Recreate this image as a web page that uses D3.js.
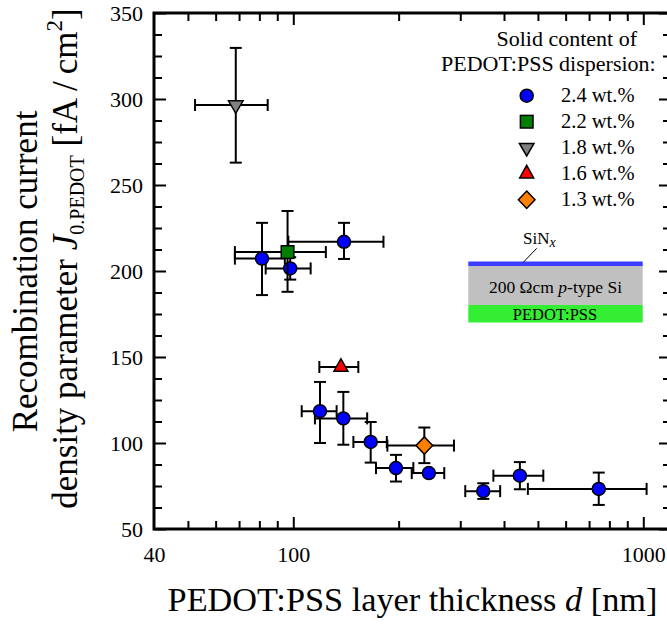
<!DOCTYPE html>
<html><head><meta charset="utf-8">
<script src="https://cdn.jsdelivr.net/npm/d3@7"></script>
<style>
body{margin:0;background:#fff}
svg{display:block}
text{font-family:"Liberation Serif","Times New Roman",serif;fill:#000}
</style>
</head><body>
<svg id="c" width="667" height="624"></svg>
<script>
// ---------------- data ----------------
const seriesLabels = ["2.4 wt.%", "2.2 wt.%", "1.8 wt.%", "1.6 wt.%", "1.3 wt.%"];
// each row: [d, d low, d high, J0, J0 low, J0 high]
const s24 = [
  [81.4, 68.1, 94.6, 207.2, 186, 228],
  [98.0, 83.4, 112.1, 201.5, 195, 208],
  [139.6, 96.8, 181, 217, 207, 228],
  [119.2, 105.7, 133, 118.5, 100, 135.5],
  [139.0, 115.3, 162.6, 114.3, 99, 129.7],
  [166.4, 148.5, 185, 100.6, 88.6, 112.2],
  [196.5, 172.3, 220.3, 85.4, 77.6, 93.1],
  [244, 218, 270, 82.5, 82.5, 82.5],
  [349, 310, 390, 72, 67.5, 76.6],
  [444, 373, 518, 81, 73.1, 88.9],
  [746, 468, 1022, 73.3, 64, 82.8]
];
const s22 = [[96.3, 68.1, 123.9, 211, 187.9, 234.9]];
const s18 = [[68.5, 52.4, 84.5, 296.5, 263, 329.7]];
const s16 = [[136.8, 118.7, 153.4, 144.2, 144.2, 144.2]];
const s13 = [[236.8, 185.7, 287.8, 98.5, 88.3, 109]];
const allSeries = [s24, s22, s18, s16, s13];

const xLabelTicks = [40, 100, 1000];
const xMajorTicks = [100, 1000];
const xMinorTicks = [50, 60, 70, 80, 90, 200, 300, 400, 500, 600, 700, 800, 900];
const yMajorTicks = [50, 100, 150, 200, 250, 300, 350];
const yMinorTicks = [62.5, 75, 87.5, 112.5, 125, 137.5, 162.5, 175, 187.5, 212.5, 225, 237.5,
                     262.5, 275, 287.5, 312.5, 325, 337.5];

// ---------------- styles ----------------
const markerFill = ["#0000ff", "#007f00", "#808080", "#ff0000", "#ff8000"];
const markerShape = ["circle", "square", "down", "up", "diamond"];

const L = 154, R = 671, T = 13, B = 529;
const svg = d3.select("#c");
const x = d3.scaleLog().domain([40, 1200]).range([L, R]);
const y = d3.scaleLinear().domain([50, 350]).range([B, T]);

// ---------------- axes ----------------
function styleAxis(g) {
  g.attr("font-family", null);
  g.select(".domain").remove();
  g.selectAll(".tick line").attr("stroke", "#000").attr("stroke-width", 2);
  g.selectAll(".tick text").style("font-size", "22px").attr("fill", "#000");
}
// bottom
svg.append("g").attr("transform", `translate(0,${B})`)
  .call(d3.axisBottom(x).tickValues(xMajorTicks).tickSize(-12).tickFormat("")).call(styleAxis);
svg.append("g").attr("transform", `translate(0,${B})`)
  .call(d3.axisBottom(x).tickValues(xMinorTicks).tickSize(-8).tickFormat("")).call(styleAxis);
svg.append("g").attr("transform", `translate(0,${B})`)
  .call(d3.axisBottom(x).tickValues(xLabelTicks).tickSize(0).tickPadding(17).tickFormat(d3.format("d"))).call(styleAxis);
// top
svg.append("g").attr("transform", `translate(0,${T})`)
  .call(d3.axisTop(x).tickValues(xMajorTicks).tickSize(-12).tickFormat("")).call(styleAxis);
svg.append("g").attr("transform", `translate(0,${T})`)
  .call(d3.axisTop(x).tickValues(xMinorTicks).tickSize(-8).tickFormat("")).call(styleAxis);
// left
svg.append("g").attr("transform", `translate(${L},0)`)
  .call(d3.axisLeft(y).tickValues(yMajorTicks).tickSizeInner(-12).tickSizeOuter(0).tickPadding(11).tickFormat(d3.format("d"))).call(styleAxis);
svg.append("g").attr("transform", `translate(${L},0)`)
  .call(d3.axisLeft(y).tickValues(yMinorTicks).tickSize(-8).tickFormat("")).call(styleAxis);
// right
svg.append("g").attr("transform", `translate(${R},0)`)
  .call(d3.axisRight(y).tickValues(yMajorTicks).tickSize(-12).tickFormat("")).call(styleAxis);
svg.append("g").attr("transform", `translate(${R},0)`)
  .call(d3.axisRight(y).tickValues(yMinorTicks).tickSize(-8).tickFormat("")).call(styleAxis);

// frame
svg.append("rect").attr("x", L).attr("y", T).attr("width", R - L).attr("height", B - T)
  .attr("fill", "none").attr("stroke", "#000").attr("stroke-width", 3);

// ---------------- markers ----------------
function drawMarker(g, shape, cx, cy, fill) {
  const common = s => s.attr("fill", fill).attr("stroke", "#000").attr("stroke-width", 1.5);
  if (shape === "circle") {
    g.append("circle").attr("cx", cx).attr("cy", cy).attr("r", 6.5).call(common);
  } else if (shape === "square") {
    g.append("rect").attr("x", cx - 6.3).attr("y", cy - 6.3).attr("width", 12.6).attr("height", 12.6).call(common);
  } else if (shape === "down") {
    g.append("path").attr("d", `M${cx-7.3},${cy-4.2}L${cx+7.3},${cy-4.2}L${cx},${cy+8.3}Z`).call(common);
  } else if (shape === "up") {
    g.append("path").attr("d", `M${cx-7},${cy+4.2}L${cx+7},${cy+4.2}L${cx},${cy-8.3}Z`).call(common);
  } else if (shape === "diamond") {
    g.append("path").attr("d", `M${cx},${cy-8.7}L${cx+8.3},${cy}L${cx},${cy+8.7}L${cx-8.3},${cy}Z`).call(common);
  }
}

const plot = svg.append("g");
const cap = 6;
allSeries.forEach((series, si) => {
  const g = plot.append("g");
  series.forEach(r => {
    const [d, dl, dh, j, jl, jh] = r;
    const px = x(d), py = y(j);
    const eg = g.append("g").attr("stroke", "#000").attr("stroke-width", 2).attr("fill", "none");
    if (dl !== dh) {
      eg.append("line").attr("x1", x(dl)).attr("x2", x(dh)).attr("y1", py).attr("y2", py);
      eg.append("line").attr("x1", x(dl)).attr("x2", x(dl)).attr("y1", py - cap).attr("y2", py + cap);
      eg.append("line").attr("x1", x(dh)).attr("x2", x(dh)).attr("y1", py - cap).attr("y2", py + cap);
    }
    if (jl !== jh) {
      eg.append("line").attr("x1", px).attr("x2", px).attr("y1", y(jl)).attr("y2", y(jh));
      eg.append("line").attr("x1", px - cap).attr("x2", px + cap).attr("y1", y(jl)).attr("y2", y(jl));
      eg.append("line").attr("x1", px - cap).attr("x2", px + cap).attr("y1", y(jh)).attr("y2", y(jh));
    }
  });
  series.forEach(r => drawMarker(g, markerShape[si], x(r[0]), y(r[3]), markerFill[si]));
});

// ---------------- legend ----------------
const leg = svg.append("g");
leg.append("text").attr("x", 496.5).attr("y", 45.5).style("font-size", "22px").text("Solid content of");
leg.append("text").attr("x", 441).attr("y", 70.5).style("font-size", "22px").text("PEDOT:PSS dispersion:");
seriesLabels.forEach((lab, i) => {
  const cy = 95.7 + 26 * i;
  drawMarker(leg, markerShape[i], 526.7, cy, markerFill[i]);
  leg.append("text").attr("x", 561).attr("y", cy + 6.5).style("font-size", "20.5px").text(lab);
});

// ---------------- inset ----------------
const ins = svg.append("g");
ins.append("rect").attr("x", 468.3).attr("y", 261.5).attr("width", 174.4).attr("height", 4.5).attr("fill", "#3c3cff");
ins.append("rect").attr("x", 468.3).attr("y", 266).attr("width", 174.4).attr("height", 39).attr("fill", "#c0c0c0");
ins.append("rect").attr("x", 468.3).attr("y", 305).attr("width", 174.4).attr("height", 17.5).attr("fill", "#33ee33");
const t1 = ins.append("text").attr("x", 555.5).attr("y", 293).attr("text-anchor", "middle").style("font-size", "17.5px");
t1.append("tspan").text("200 \u03A9cm ");
t1.append("tspan").style("font-style", "italic").text("p");
t1.append("tspan").text("-type Si");
ins.append("text").attr("x", 555).attr("y", 320).attr("text-anchor", "middle").style("font-size", "16.5px").text("PEDOT:PSS");
const t3 = ins.append("text").attr("x", 523).attr("y", 243.5).style("font-size", "17px");
t3.append("tspan").text("SiN");
t3.append("tspan").attr("dy", 3).style("font-style", "italic").style("font-size", "14px").text("x");
ins.append("line").attr("x1", 536.7).attr("y1", 248.3).attr("x2", 523.3).attr("y2", 262.3)
  .attr("stroke", "#000").attr("stroke-width", 1);

// ---------------- axis titles ----------------
const xt = svg.append("text").attr("x", 412.5).attr("y", 611).attr("text-anchor", "middle").style("font-size", "34.3px");
xt.append("tspan").text("PEDOT:PSS layer thickness ");
xt.append("tspan").style("font-style", "italic").text("d");
xt.append("tspan").text(" [nm]");

svg.append("text").attr("transform", "translate(37,271.5) rotate(-90)").attr("text-anchor", "middle")
  .style("font-size", "35px").text("Recombination current");
const yt = svg.append("text").attr("transform", "translate(77,258.5) rotate(-90)").attr("text-anchor", "middle")
  .style("font-size", "35px");
yt.append("tspan").text("density parameter ");
yt.append("tspan").style("font-style", "italic").text("J");
yt.append("tspan").attr("dy", 7).style("font-size", "20px").text("0.PEDOT");
yt.append("tspan").attr("dy", -7).text(" [fA\u2009/\u2009cm");
yt.append("tspan").attr("dy", -15).style("font-size", "23px").text("2");
yt.append("tspan").attr("dy", 15).text("]");
</script>
</body></html>
